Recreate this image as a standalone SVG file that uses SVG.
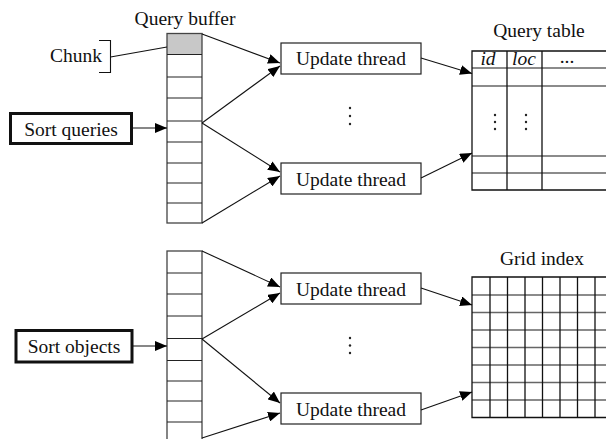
<svg xmlns="http://www.w3.org/2000/svg" width="606" height="439" viewBox="0 0 606 439">
<defs>
<marker id="ah" markerWidth="12" markerHeight="10" refX="12" refY="5" orient="auto" markerUnits="userSpaceOnUse"><path d="M0,0 L12,5 L0,10 z" fill="#000"/></marker>
<style>
text{font-family:"Liberation Serif","Times New Roman",serif;font-size:19.5px;fill:#111}
.box{fill:#fff;stroke:#222;stroke-width:1.2}
.thick{fill:#fff;stroke:#111;stroke-width:3}
.row{stroke:#222;stroke-width:1.2;fill:none}
.hl{stroke:#666;stroke-width:1.6;fill:none}
.vl{stroke:#111;stroke-width:1.3;fill:none}
.con{stroke:#111;stroke-width:1.1;fill:none}
.arr{stroke:#111;stroke-width:1.1;fill:none;marker-end:url(#ah)}
.dot{fill:#222}
</style>
</defs>
<rect width="606" height="439" fill="#fff"/>

<g id="query-buffer">
<text x="185" y="25" text-anchor="middle">Query buffer</text>
<rect x="167" y="33.5" width="35" height="189.5" fill="#fff"/>
<rect x="167" y="33.5" width="35" height="21" fill="#c8c8c8"/>
<rect x="167" y="33.5" width="35" height="189.5" fill="none" stroke="#444" stroke-width="1.3"/>
<path class="row" d="M167,54.5H202M167,77H202M167,98H202M167,121H202M167,142H202M167,163H202M167,183H202M167,203H202"/>
</g>

<g id="chunk">
<text x="76" y="62" text-anchor="middle">Chunk</text>
<path class="con" d="M99,40.5H110.5V72.5H99"/>
</g>

<g id="sort-queries">
<rect class="thick" x="10.5" y="113.5" width="121" height="30"/>
<text x="71" y="135.5" text-anchor="middle">Sort queries</text>
</g>

<g id="update-thread-1">
<rect class="box" x="281" y="43" width="140" height="31"/>
<text x="351" y="65" text-anchor="middle">Update thread</text>
</g>
<g id="dots-1">
<circle class="dot" cx="350" cy="108" r="1.2"/><circle class="dot" cx="350" cy="116" r="1.2"/><circle class="dot" cx="350" cy="124" r="1.2"/>
</g>
<g id="update-thread-2">
<rect class="box" x="281" y="163" width="140" height="31"/>
<text x="351" y="185.5" text-anchor="middle">Update thread</text>
</g>

<g id="query-table">
<text x="539" y="37" text-anchor="middle">Query table</text>
<path class="hl" d="M472,68H612M472,86H612M472,156H612M472,173H612"/>
<path class="vl" d="M612,51H472V190H612M507,51V190M542,51V190"/>
<text x="488" y="65" text-anchor="middle" font-style="italic">id</text>
<text x="524" y="65" text-anchor="middle" font-style="italic">loc</text>
<text x="567" y="63" text-anchor="middle" font-size="14">...</text>
<circle class="dot" cx="495" cy="115" r="1.2"/><circle class="dot" cx="495" cy="122" r="1.2"/><circle class="dot" cx="495" cy="129" r="1.2"/>
<circle class="dot" cx="526" cy="115" r="1.2"/><circle class="dot" cx="526" cy="122" r="1.2"/><circle class="dot" cx="526" cy="129" r="1.2"/>
</g>

<g id="object-buffer">
<rect x="167" y="251" width="35" height="192" fill="#fff" stroke="#444" stroke-width="1.3"/>
<path class="row" d="M167,273H202M167,294H202M167,316H202M167,338.5H202M167,360.5H202M167,381H202M167,401H202M167,422H202"/>
</g>

<g id="sort-objects">
<rect class="thick" x="16" y="330.5" width="116" height="31.5"/>
<text x="74" y="352.5" text-anchor="middle">Sort objects</text>
</g>

<g id="update-thread-3">
<rect class="box" x="281" y="273" width="140" height="31"/>
<text x="351" y="295.5" text-anchor="middle">Update thread</text>
</g>
<g id="dots-2">
<circle class="dot" cx="350" cy="338" r="1.2"/><circle class="dot" cx="350" cy="345.5" r="1.2"/><circle class="dot" cx="350" cy="353" r="1.2"/>
</g>
<g id="update-thread-4">
<rect class="box" x="281" y="393" width="140" height="31"/>
<text x="351" y="415.5" text-anchor="middle">Update thread</text>
</g>

<g id="grid-index">
<text x="542" y="265" text-anchor="middle">Grid index</text>
<path class="hl" d="M472,295H612M472,312.5H612M472,330H612M472,347.5H612M472,365H612M472,382.5H612M472,400H612"/>
<path class="vl" d="M612,277H472V417.5H612M490,277V417.5M507.5,277V417.5M525,277V417.5M542.5,277V417.5M560,277V417.5M577.5,277V417.5M595,277V417.5"/>
</g>

<g id="connectors">
<path class="con" d="M110.5,57L167,47"/>
<path class="arr" d="M133,128H167"/>
<path class="arr" d="M202,34L280,63"/>
<path class="arr" d="M202,123L280,66"/>
<path class="arr" d="M202,123L280,172"/>
<path class="arr" d="M202,223L280,176"/>
<path class="arr" d="M421,58L472,73.5"/>
<path class="arr" d="M421,178L472,153"/>
<path class="arr" d="M133,346H167"/>
<path class="arr" d="M202,251L280,287"/>
<path class="arr" d="M202,339L280,293"/>
<path class="arr" d="M202,339L280,403"/>
<path class="arr" d="M202,438L280,413"/>
<path class="arr" d="M421,288L472,305"/>
<path class="arr" d="M421,410L472,392"/>
</g>
</svg>
